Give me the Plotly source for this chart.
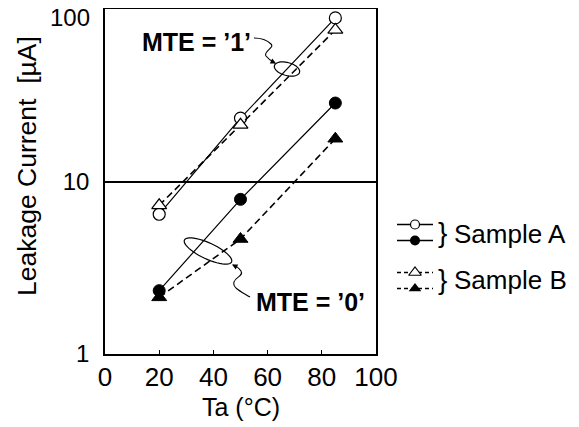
import numpy as np
import plotly.graph_objects as go

# ---------------- data ----------------
ta = [20, 50, 85]
a_mte1 = [6.46, 23.3, 88.8]   # Sample A, MTE='1' (open circle)
b_mte1 = [7.28, 21.3, 75.7]   # Sample B, MTE='1' (open triangle)
a_mte0 = [2.33, 7.88, 28.5]   # Sample A, MTE='0' (filled circle)
b_mte0 = [2.13, 4.64, 17.7]   # Sample B, MTE='0' (filled triangle)
x_ticks = [0, 20, 40, 60, 80, 100]
y_ticks = [1, 10, 100]
y_ticklabels = ["1", "10", ""]   # "100" placed separately (shifted down in the original)
x_title = "Ta (\u00b0C)"
y_title = "Leakage Current  [\u00b5A]"

FONT = "Liberation Sans, Arial, sans-serif"
OFF = 8                      # page body margin in the browser
W, H = 579 - OFF, 427 - OFF
# plot box in window pixels
BOX_L, BOX_R, BOX_T, BOX_B = 105, 376, 9, 354
L = BOX_L - OFF
T = BOX_T - OFF
B = 427 - BOX_B
R = 10
PW = W - L - R
PH = H - T - B


def px(x):
    return (x - OFF - L) / PW


def py(y):
    return (427 - B - y) / PH


fig = go.Figure()

solid = dict(color="black", width=1.2)
dashed = dict(color="black", width=1.6, dash="7px,4px")

fig.add_trace(go.Scatter(x=ta, y=a_mte1, mode="lines+markers", line=solid,
                         marker=dict(symbol="circle", size=12, color="white",
                                     line=dict(color="black", width=1.2))))
fig.add_trace(go.Scatter(x=ta, y=b_mte1, mode="lines+markers", line=dashed,
                         marker=dict(symbol="triangle-up", size=13, color="white",
                                     line=dict(color="black", width=1.2))))
fig.add_trace(go.Scatter(x=ta, y=a_mte0, mode="lines+markers", line=solid,
                         marker=dict(symbol="circle", size=12, color="black",
                                     line=dict(color="black", width=1))))
fig.add_trace(go.Scatter(x=ta, y=b_mte0, mode="lines+markers", line=dashed,
                         marker=dict(symbol="triangle-up", size=13, color="black",
                                     line=dict(color="black", width=1))))

# ---------------- custom legend (second axes) ----------------
leg_x = [0, 1, 2]
leg_rows = [4, 3, 1, 0]
leg_solid = dict(color="black", width=1.3)
leg_dash = dict(color="black", width=1.3, dash="4px,3px")
for row, ln in zip(leg_rows, [leg_solid, leg_solid, leg_dash, leg_dash]):
    fig.add_trace(go.Scatter(x=leg_x, y=[row] * 3, mode="lines", line=ln,
                             xaxis="x2", yaxis="y2"))
fig.add_trace(go.Scatter(x=[1], y=[leg_rows[0]], mode="markers", xaxis="x2", yaxis="y2",
                         marker=dict(symbol="circle", size=9, color="white", line=dict(color="black", width=1.2))))
fig.add_trace(go.Scatter(x=[1], y=[leg_rows[1]], mode="markers", xaxis="x2", yaxis="y2",
                         marker=dict(symbol="circle", size=10, color="black")))
fig.add_trace(go.Scatter(x=[1], y=[leg_rows[2]], mode="markers", xaxis="x2", yaxis="y2",
                         marker=dict(symbol="triangle-up", size=11, color="white", line=dict(color="black", width=1.2))))
fig.add_trace(go.Scatter(x=[1], y=[leg_rows[3]], mode="markers", xaxis="x2", yaxis="y2",
                         marker=dict(symbol="triangle-up", size=11, color="black")))


# ---------------- decorations: ellipses and curly arrows ----------------
def ellipse_path(cx, cy, a, b, ang_deg, n=48):
    t = np.linspace(0, 2 * np.pi, n, endpoint=False)
    th = np.radians(ang_deg)
    xs = cx + a * np.cos(t) * np.cos(th) - b * np.sin(t) * np.sin(th)
    ys = cy + a * np.cos(t) * np.sin(th) + b * np.sin(t) * np.cos(th)
    pts = [f"{px(x):.5f},{py(y):.5f}" for x, y in zip(xs, ys)]
    return "M " + " L ".join(pts) + " Z"


def bez_path(points):
    s = f"M {px(points[0][0]):.5f},{py(points[0][1]):.5f}"
    rest = points[1:]
    for i in range(0, len(rest), 3):
        c = rest[i:i + 3]
        s += " C " + " ".join(f"{px(x):.5f},{py(y):.5f}" for x, y in c)
    return s


shapes = [
    dict(type="path", xref="paper", yref="paper", path=ellipse_path(287, 69, 13, 6.5, 15),
         line=dict(color="black", width=1.2)),
    dict(type="path", xref="paper", yref="paper", path=ellipse_path(208, 251, 26, 8, 25),
         line=dict(color="black", width=1.2)),
    dict(type="path", xref="paper", yref="paper",
         path=bez_path([(254, 38), (261, 38), (267, 40), (271, 44),
                        (275, 48), (263, 51), (266, 56),
                        (269, 60), (271, 61), (275, 63)]),
         line=dict(color="black", width=1.1)),
    dict(type="path", xref="paper", yref="paper",
         path=bez_path([(250, 297), (242, 292), (232, 288), (234, 282),
                        (235, 277), (244, 276), (241, 271),
                        (239, 268), (236, 266), (233, 265)]),
         line=dict(color="black", width=1.1)),
]


def label(x, y, text, size, xanchor="center", angle=0):
    return dict(xref="paper", yref="paper", x=px(x), y=py(y), text=text, showarrow=False,
                xanchor=xanchor, yanchor="middle", textangle=angle,
                font=dict(family=FONT, size=size, color="black"))


annotations = [
    label(196, 42, "<b>MTE = \u20191\u2019</b>", 25),
    label(310, 302, "<b>MTE = \u20190\u2019</b>", 25),
    dict(xref="paper", yref="paper", x=px(276), y=py(63.5), ax=-6, ay=-3, text="",
         showarrow=True, arrowhead=2, arrowsize=1, arrowwidth=1.1, arrowcolor="black"),
    dict(xref="paper", yref="paper", x=px(232), y=py(264.5), ax=6, ay=3, text="",
         showarrow=True, arrowhead=2, arrowsize=1, arrowwidth=1.1, arrowcolor="black"),
    # "100" y tick label (sits lower than its gridline in the original)
    label(92, 18, "100", 24, xanchor="right"),
    # axis titles
    label(241, 407, x_title, 25),
    label(27, 166, y_title, 26.5, angle=-90),
    # legend braces and labels
    label(442, 233, "}", 28),
    label(442, 279, "}", 28),
    label(452, 234, "Sample A", 26, xanchor="left"),
    label(452, 280, "Sample B", 26, xanchor="left"),
]

fig.update_layout(
    width=W, height=H,
    margin=dict(l=L, r=R, t=T, b=B, autoexpand=False),
    paper_bgcolor="white", plot_bgcolor="rgba(0,0,0,0)",
    showlegend=False,
    font=dict(family=FONT, size=24, color="black"),
    shapes=shapes,
    annotations=annotations,
    xaxis=dict(
        domain=[0, px(BOX_R)], range=[0, 100], tickvals=x_ticks,
        ticks="inside", ticklen=4, tickwidth=1.3, tickcolor="black",
        showline=True, mirror=True, linecolor="black", linewidth=1.5,
        showgrid=False, zeroline=False, automargin=False,
        tickfont=dict(family=FONT, size=26), ticklabelstandoff=-1,
    ),
    yaxis=dict(
        type="log", range=[0, 2], tickvals=y_ticks, ticktext=y_ticklabels,
        domain=[0, 1],
        ticks="", showline=True, mirror=True, linecolor="black", linewidth=1.5,
        showgrid=True, gridcolor="black", gridwidth=1.5, zeroline=False, automargin=False,
        tickfont=dict(family=FONT, size=24), ticklabelstandoff=9,
    ),
    xaxis2=dict(domain=[px(397), px(433)], range=[0, 2], visible=False, anchor="y2"),
    yaxis2=dict(domain=[py(288 + 8.5), py(225 - 8.5)], range=[-0.5, 4.5], visible=False, anchor="x2"),
)

fig.write_html("out.html")
